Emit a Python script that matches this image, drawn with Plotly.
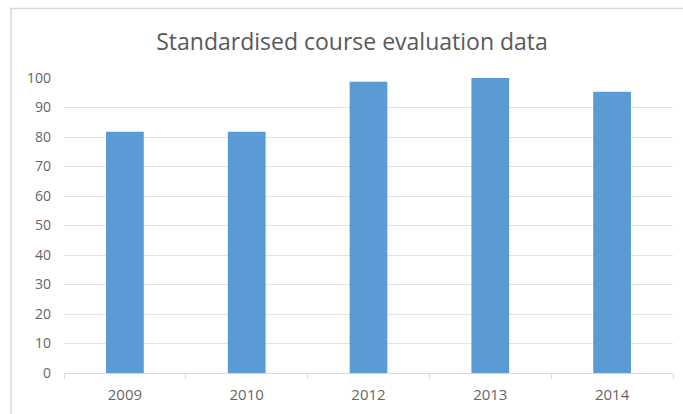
import plotly.graph_objects as go

years = ["2009", "2010", "2012", "2013", "2014"]
scores = [81.8, 81.8, 98.7, 100.0, 95.3]
y_ticks = [0, 10, 20, 30, 40, 50, 60, 70, 80, 90, 100]

fig = go.Figure(go.Bar(
    x=years, y=scores,
    marker=dict(color="#5b9bd5", line=dict(width=0)),
    width=0.31,
))

L, R, T, B = 64, 10, 78, 39
W, H = 683, 414
pw, ph = W - L - R, H - T - B

fig.update_layout(
    width=W, height=H,
    margin=dict(l=L, r=R, t=T, b=B),
    paper_bgcolor="white", plot_bgcolor="white",
    showlegend=False,
    font=dict(family="Open Sans, Liberation Sans, sans-serif", color="#595959"),
    title=dict(text="Standardised course evaluation data", x=352 / W, xanchor="center",
               y=1 - 42 / H, yanchor="middle",
               font=dict(size=23, color="#595959")),
    xaxis=dict(type="category", showgrid=False, showline=True, linecolor="#d9d9d9",
               linewidth=1, ticks="outside", tickson="boundaries", ticklen=5,
               tickcolor="#d9d9d9", ticklabelstandoff=8,
               tickfont=dict(size=15, color="#666666")),
    yaxis=dict(range=[0, 100], tickvals=y_ticks, showgrid=True, gridcolor="#e3e3e3",
               gridwidth=1, zeroline=False, showline=False, ticks="",
               ticklabelstandoff=12,
               tickfont=dict(size=14, color="#666666")),
    bargap=0.69,
)

fig.add_shape(type="rect", xref="paper", yref="paper",
              x0=(11 - L) / pw, x1=(W + 5 - L) / pw,
              y0=-(H + 5 - (H - B)) / ph, y1=(H - B - 8) / ph,
              line=dict(color="#d9d9d9", width=1.5), fillcolor="rgba(0,0,0,0)", layer="below")

fig.write_html("out.html", config={"displayModeBar": False},
               post_script="document.body.style.margin='0';document.body.style.overflow='hidden';")
